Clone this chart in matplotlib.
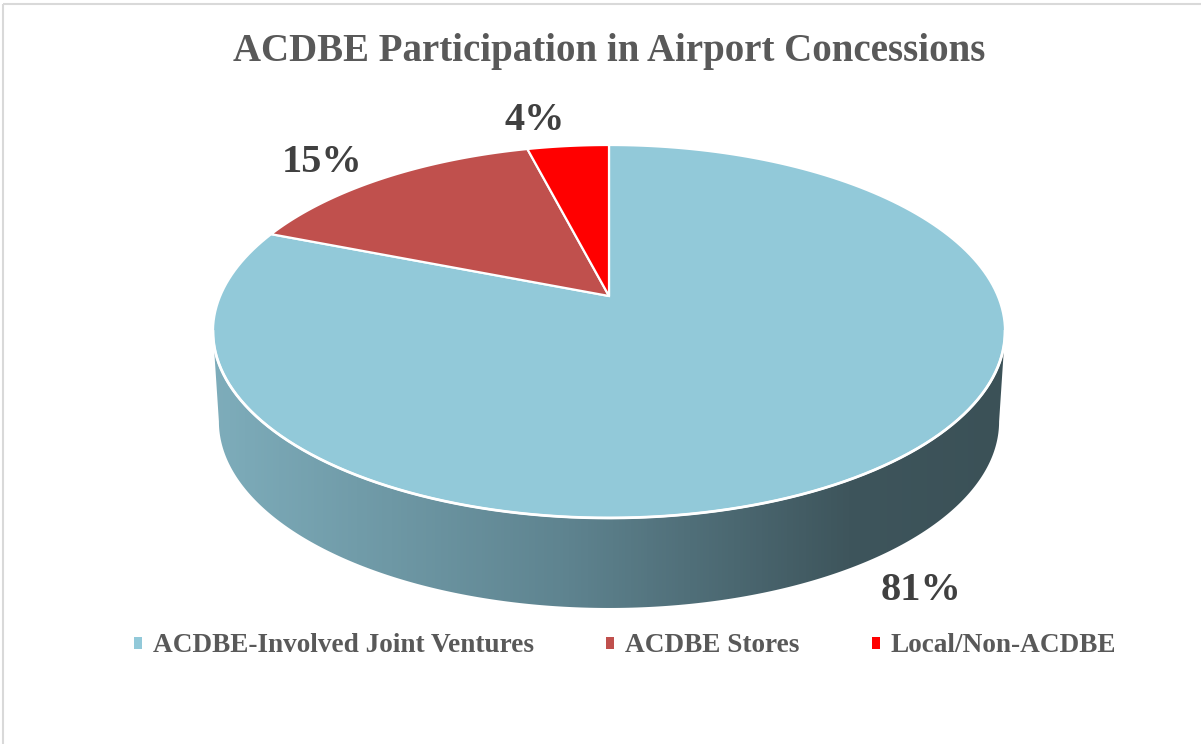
import numpy as np
import matplotlib
matplotlib.use("Agg")
import matplotlib.pyplot as plt
from matplotlib.colors import LinearSegmentedColormap
from matplotlib.patches import Polygon, Patch, Rectangle

# data
categories = ["ACDBE-Involved Joint Ventures", "ACDBE Stores", "Local/Non-ACDBE"]
values = [81, 15, 4]
labels = ["81%", "15%", "4%"]
colors = ["#92C9D9", "#C0504D", "#FF0000"]
title = "ACDBE Participation in Airport Concessions"

# perspective pie geometry (pixels)
CX, CY = 609.0, 296.0
A, B, C = 388.8, -123.4, 0.1903
DEPTH = 90.0
K_BOT = 0.985

FONT = "Liberation Serif"


def project(X, Y):
    d = 1 + C * Y
    return CX + A * X / d, (CY + B * Y) / d


fig = plt.figure(figsize=(12.01, 7.44), dpi=100)
ax = fig.add_axes([0, 0, 1, 1])
ax.set_xlim(0, 1201)
ax.set_ylim(744, 0)
ax.axis("off")

# chart border
ax.add_patch(Rectangle((3, 4), 1300, 900, fill=False, edgecolor="#D9D9D9", lw=1.5))

# side wall (front half of the cylinder)
t_left = np.pi + np.arcsin(C)
t_right = 2 * np.pi - np.arcsin(C)
t = np.linspace(t_left, t_right, 300)
xt, yt = project(np.cos(t), np.sin(t))
xb = CX + K_BOT * (xt - CX)
yb = yt + DEPTH
side_pts = np.column_stack([np.r_[xt, xb[::-1]], np.r_[yt, yb[::-1]]])
side = Polygon(side_pts, closed=True, facecolor="none", edgecolor="none")
ax.add_patch(side)
side_cmap = LinearSegmentedColormap.from_list(
    "side", [(0.0, "#7EADBB"), (0.45, "#5E838F"), (0.8, "#3E555C"), (1.0, "#3B5157")])
grad = np.linspace(0, 1, 256).reshape(1, -1)
im = ax.imshow(grad, cmap=side_cmap, aspect="auto",
               extent=(xt.min() - 2, xt.max() + 2, yb.max() + 2, yt.min() - 2), zorder=1)
im.set_clip_path(side)

# top face slices, clockwise from 12 o'clock
total = float(sum(values))
edges = 90 - 360 * np.concatenate([[0], np.cumsum(values)]) / total
for i, v in enumerate(values):
    th = np.radians(np.linspace(edges[i], edges[i + 1], 200))
    px, py = project(np.cos(th), np.sin(th))
    px = np.r_[CX, px]
    py = np.r_[CY, py]
    ax.fill(px, py, facecolor=colors[i], edgecolor="white", lw=1.6, zorder=2)

# white rim along the front edge
ax.plot(xt, yt, color="white", lw=2, zorder=3)

# data labels
label_pos = [(921, 590), (322, 162), (535, 120)]
for lab, (lx, ly) in zip(labels, label_pos):
    ax.text(lx, ly, lab, ha="center", va="center", fontsize=29, fontweight="bold",
            family=FONT, color="#404040", zorder=4)

ax.text(609, 51, title, ha="center", va="center", fontsize=28, fontweight="bold",
        family=FONT, color="#595959")

handles = [Patch(facecolor=c, edgecolor="none") for c in colors]
ax.legend(handles, categories, loc="center", bbox_to_anchor=(625, 646),
          bbox_transform=ax.transData, ncol=3, frameon=False,
          prop={"family": FONT, "weight": "bold", "size": 19.6},
          labelcolor="#595959", handlelength=0.3, handleheight=0.3,
          handletextpad=0.4, columnspacing=2.65)

fig.savefig("out.png", dpi=100)
